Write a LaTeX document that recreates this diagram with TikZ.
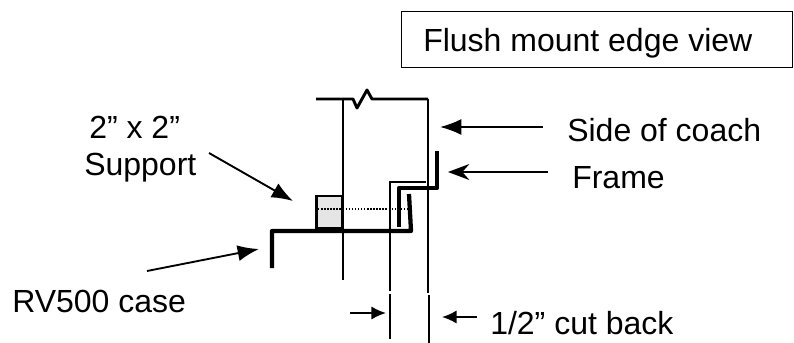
\documentclass[tikz,border=0pt]{standalone}
\usepackage{fontspec}
\setmainfont{Liberation Sans}
\usetikzlibrary{arrows.meta}

\begin{document}
\begin{tikzpicture}
    [
    x=0.75pt,y=-0.75pt,
    caption/.style={font=\fontsize{24}{28}\selectfont,inner sep=0pt,anchor=base west},
    title/.style={draw,line width=1.2pt,inner sep=0pt,minimum width=293pt,minimum height=42pt},
    pointer/.style={line width=1.4pt,-{Latex[length=16pt,width=12pt]}},
    sharp/.style={line width=1.4pt,-{Stealth[length=16pt,width=12pt]}},
    short/.style={line width=1.4pt,-{Latex[length=11pt,width=10pt]}},
    wall/.style={line width=2pt},
    edge/.style={line width=2.2pt,line join=round},
    heavy/.style={line width=3.2pt,line join=round}
    ]
    \useasboundingbox (0,0) rectangle (794,343);
    % labels
    \node (title) at (597,39.5) [title] {};
    \node (titletext) at (423,51) [caption] {Flush mount edge view};
    \node (size) at (89,138) [caption] {2” x 2”};
    \node (support) at (84,175) [caption] {Support};
    \node (side) at (567,141) [caption] {Side of coach};
    \node (frame) at (572,188) [caption] {Frame};
    \node (case) at (12,312) [caption] {RV500 case};
    \node (cut) at (490,334) [caption] {1/2” cut back};
    % support block
    \node (block) at (329.5,212) [draw,line width=2.2pt,fill=black!10,inner sep=0pt,minimum width=20pt,minimum height=24pt] {};
    % coordinates
    \coordinate (topleft) at (316,99);
    \coordinate (topright) at (428,99);
    \coordinate (wallbottom) at (428,293);
    \coordinate (studtop) at (343,99);
    \coordinate (studbottom) at (343,280);
    \coordinate (caseleg) at (272,268);
    \coordinate (casecorner) at (272,231);
    \coordinate (caseright) at (411,231);
    \coordinate (caselip) at (409,194);
    \coordinate (framebottom) at (399,227);
    \coordinate (framebend) at (399,188);
    \coordinate (frameelbow) at (437,188);
    \coordinate (frametop) at (437,151);
    \coordinate (cutbottom) at (390,291);
    \coordinate (cutbend) at (390,182);
    \coordinate (cutend) at (426,182);
    \coordinate (dotleft) at (318,209);
    \coordinate (dotright) at (412,209);
    \coordinate (dimleftt) at (390,294);
    \coordinate (dimleftb) at (390,339);
    \coordinate (dimrightt) at (429,295);
    \coordinate (dimrightb) at (429,343);
    % coach side
    \draw [edge] (topleft) -- (353,99) -- (357,108) -- (367,90) -- (372,99) -- (topright);
    \draw [wall] (topright) -- (wallbottom);
    \draw [wall] (studtop) -- (studbottom);
    % case and frame
    \draw [heavy] (caseleg) -- (casecorner) -- (caseright) -- (caselip);
    \draw [heavy] (framebottom) -- (framebend) -- (frameelbow) -- (frametop);
    \draw [wall] (cutbottom) -- (cutbend) -- (cutend);
    \draw [line width=1.2pt,dash pattern=on 1.1pt off 1.2pt] (dotleft) -- (dotright);
    % cut back marks
    \draw [wall] (dimleftt) -- (dimleftb);
    \draw [wall] (dimrightt) -- (dimrightb);
    % arrows
    \coordinate (sidetip) at (440,127);
    \coordinate (sidetail) at (543,127);
    \coordinate (frametip) at (448,172);
    \coordinate (frametail) at (548,172);
    \coordinate (supporttip) at (293,201);
    \coordinate (supporttail) at (209,153);
    \coordinate (casetip) at (259,249);
    \coordinate (casetail) at (147,271);
    \coordinate (cuttipl) at (386,313);
    \coordinate (cuttaill) at (350,313);
    \coordinate (cuttipr) at (442,317);
    \coordinate (cuttailr) at (477,317);
    \draw [pointer] (sidetail) to (sidetip);
    \draw [sharp] (frametail) to (frametip);
    \draw [pointer] (supporttail) to (supporttip);
    \draw [pointer] (casetail) to (casetip);
    \draw [short] (cuttaill) to (cuttipl);
    \draw [short] (cuttailr) to (cuttipr);
\end{tikzpicture}
\end{document}
